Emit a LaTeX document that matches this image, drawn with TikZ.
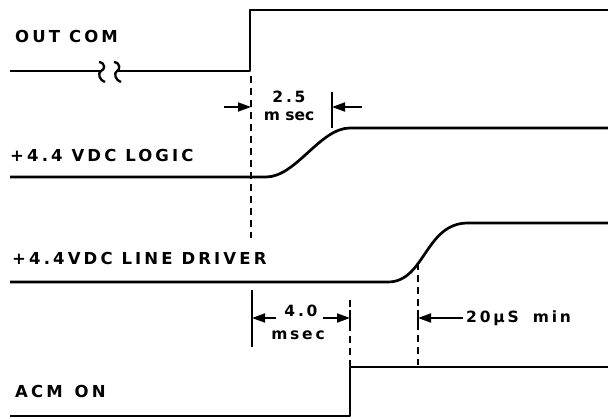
\documentclass[tikz,border=0pt]{standalone}
\usepackage{fontspec}
\setmainfont{DejaVu Sans}
\newfontfamily\lblfont{DejaVu Sans}[LetterSpace=19]
\newfontfamily\smlfont{DejaVu Sans}[LetterSpace=18]
\newfontfamily\smltight{DejaVu Sans}[LetterSpace=0]
\usetikzlibrary{arrows.meta}
\tikzset{
  sig/.style={line width=2.7pt, line join=round},
  tick/.style={line width=1.7pt},
  guide/.style={line width=1.7pt, dash pattern=on 7pt off 5pt},
  dim/.style={line width=1.8pt, -{Triangle[length=13pt,width=9pt]}},
  lbl/.style={anchor=base west, inner sep=0pt, font=\lblfont\bfseries\fontsize{16.5}{17}\selectfont},
  sml/.style={anchor=base, inner sep=0pt, font=\smlfont\bfseries\fontsize{15.5}{16}\selectfont},
}
\begin{document}
\begin{tikzpicture}[x=1pt,y=-1pt]
\useasboundingbox (0,0) rectangle (608,419);
% labels
\node[lbl] (loc) at (15,43) {OUT COM};
\node[lbl] (llg) at (10,162) {+4.4 VDC LOGIC};
\node[lbl] (ldr) at (12,265) {+4.4VDC LINE DRIVER};
\node[lbl] (lacm) at (15,398) {ACM\hspace{3pt} ON};
% OUT COM
\coordinate (oc0) at (10,71);
\coordinate (oc1) at (101,71);
\coordinate (oc2) at (117,71);
\coordinate (oc3) at (250,71);
\coordinate (oc4) at (250,10);
\coordinate (oc5) at (608,10);
\draw[sig] (oc0) -- (oc1);
\draw[line width=2.3pt] (99,62) .. controls (106,63) and (105,70) .. (101,71) .. controls (97,73) and (100,81) .. (105,82);
\draw[line width=2.3pt] (114,62) .. controls (121,63) and (120,70) .. (117,71) .. controls (113,73) and (116,81) .. (121,82);
\draw[sig] (oc2) -- (oc3) -- (oc4) -- (oc5);
% LOGIC
\coordinate (lg0) at (10,177);
\coordinate (lg1) at (266,177);
\coordinate (lg2) at (350,128);
\coordinate (lg3) at (608,128);
\draw[sig] (lg0) -- (lg1) .. controls (296,177) and (320,128) .. (lg2) -- (lg3);
% LINE DRIVER
\coordinate (dr0) at (10,282);
\coordinate (dr1) at (388,282);
\coordinate (dr2) at (468,223);
\coordinate (dr3) at (608,223);
\draw[sig] (dr0) -- (dr1) .. controls (425,282) and (425,223) .. (dr2) -- (dr3);
% ACM ON
\coordinate (ac0) at (10,416);
\coordinate (ac1) at (350,416);
\coordinate (ac2) at (350,367);
\coordinate (ac3) at (608,367);
\draw[sig] (ac0) -- (ac1) -- (ac2) -- (ac3);
% guides
\coordinate (ga0) at (251,76);
\coordinate (ga1) at (251,238);
\draw[guide] (ga0) -- (ga1);
\coordinate (gb0) at (350,300);
\coordinate (gb1) at (350,366);
\draw[guide] (gb0) -- (gb1);
\coordinate (gc0) at (418,263);
\coordinate (gc1) at (418,365);
\draw[guide] (gc0) -- (gc1);
% 2.5 msec
\coordinate (t1a) at (332,92);
\coordinate (t1b) at (332,128);
\draw[tick] (t1a) -- (t1b);
\coordinate (a1s) at (224,107);
\coordinate (a1e) at (251,107);
\draw[dim] (a1s) -- (a1e);
\coordinate (a2s) at (362,107);
\coordinate (a2e) at (332,107);
\draw[dim] (a2s) -- (a2e);
\node[sml] (n25) at (289,103) {2.5};
\node[anchor=base, inner sep=0pt, font=\smltight\bfseries\fontsize{15.5}{16}\selectfont] (nms1) at (289,121) {m sec};
% 4.0 msec
\coordinate (t2a) at (252,290);
\coordinate (t2b) at (252,347);
\draw[tick] (t2a) -- (t2b);
\coordinate (t3a) at (350,310);
\coordinate (t3b) at (350,327);
\draw[tick] (t3a) -- (t3b);
\coordinate (a3s) at (276,318);
\coordinate (a3e) at (252,318);
\draw[dim] (a3s) -- (a3e);
\coordinate (a4s) at (323,318);
\coordinate (a4e) at (350,318);
\draw[dim] (a4s) -- (a4e);
\node[sml] (n40) at (301,317) {4.0};
\node[sml] (nms2) at (298,340) {msec};
% 20 us min
\coordinate (t4a) at (418,310);
\coordinate (t4b) at (418,327);
\draw[tick] (t4a) -- (t4b);
\coordinate (a5s) at (463,318);
\coordinate (a5e) at (418,318);
\draw[dim] (a5s) -- (a5e);
\node[sml, anchor=base west] (n20) at (466,323) {20µS\hspace{6pt} min};
\end{tikzpicture}
\end{document}
